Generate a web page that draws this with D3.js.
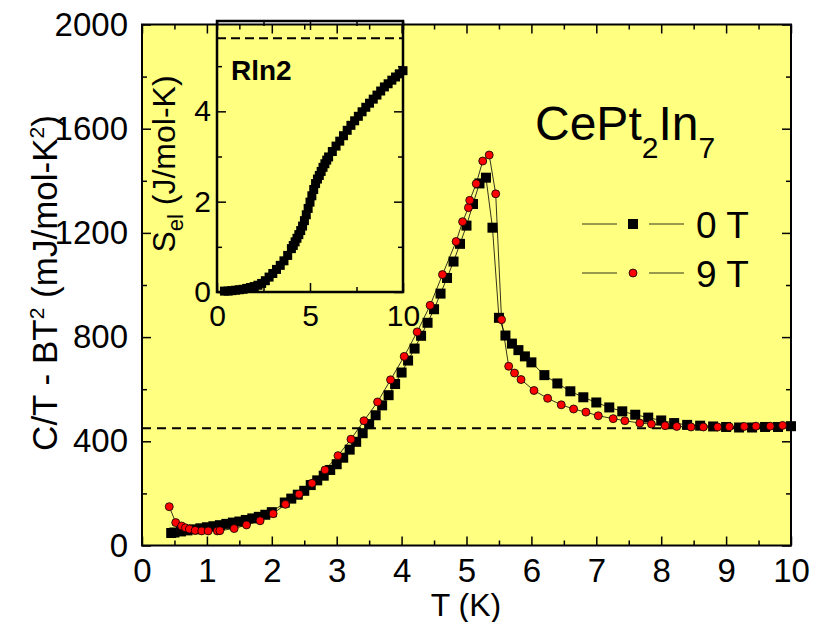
<!DOCTYPE html>
<html>
<head>
<meta charset="utf-8">
<script src="https://cdn.jsdelivr.net/npm/d3@7"></script>
<style>
  body { margin: 0; background: #fff; }
  svg text { font-family: "Liberation Sans", Arial, sans-serif; fill: #000; }
</style>
</head>
<body>
<svg width="820" height="622"></svg>
<script>
// 0 T data (squares)
const t0 = [0.45, 0.5, 0.6, 0.7, 0.8, 0.9, 1.0, 1.1, 1.2, 1.3, 1.4, 1.5, 1.6, 1.7, 1.8, 1.9, 2.0,
  2.2, 2.3, 2.4, 2.5, 2.6, 2.7, 2.8, 2.9, 3.0, 3.1, 3.2, 3.3, 3.4, 3.5, 3.6, 3.7, 3.8, 3.9, 4.0,
  4.1, 4.2, 4.3, 4.4, 4.5, 4.6, 4.7, 4.8, 4.9, 5.0, 5.1, 5.2, 5.3, 5.4, 5.5, 5.6, 5.7, 5.8, 5.9,
  6.0, 6.2, 6.4, 6.6, 6.8, 7.0, 7.2, 7.4, 7.6, 7.8, 8.0, 8.2, 8.4, 8.6, 8.8, 9.0, 9.2, 9.4, 9.6, 9.8, 10.0];
const c0 = [48, 50, 54, 58, 62, 66, 70, 74, 78, 83, 88, 92, 98, 104, 110, 118, 128,
  165, 180, 195, 210, 232, 250, 268, 290, 312, 337, 368, 398, 431, 466, 500, 538, 577, 620, 664,
  710, 756, 805, 855, 907, 967, 1027, 1090, 1158, 1228, 1311, 1390, 1412, 1220, 874, 806, 775, 750, 726,
  703, 654, 622, 592, 569, 549, 530, 515, 502, 491, 480, 470, 463, 460, 457, 455, 453, 453, 455, 455, 458];

// 9 T data (circles)
const t9 = [0.42, 0.52, 0.61, 0.67, 0.73, 0.82, 0.92, 1.02, 1.16, 1.2, 1.42, 1.61, 1.82, 2.02, 2.21,
  2.42, 2.62, 2.82, 3.02, 3.22, 3.42, 3.63, 3.83, 4.04, 4.24, 4.44, 4.63, 4.84, 4.94, 5.03, 5.05,
  5.15, 5.25, 5.35, 5.45, 5.54, 5.65, 5.74, 5.84, 6.04, 6.25, 6.46, 6.65, 6.84, 7.03, 7.26, 7.44,
  7.67, 7.85, 8.06, 8.24, 8.46, 8.65, 8.87, 9.05, 9.28, 9.46, 9.68, 9.87];
const c9 = [149, 88, 75, 68, 63, 58, 56, 56, 56, 57, 65, 79, 95, 122, 158,
  197, 239, 290, 345, 408, 479, 551, 636, 726, 820, 922, 1040, 1167, 1243, 1297, 1325,
  1389, 1476, 1499, 1350, 867, 688, 662, 637, 595, 565, 540, 524, 512, 498, 487, 479,
  470, 466, 460, 457, 455, 455, 455, 456, 457, 458, 458, 461];

const baseline = 450;

// inset: electronic entropy
const tIn = [0.4, 0.6, 0.8, 1.0, 1.2, 1.4, 1.6, 1.8, 2.0, 2.2, 2.4, 2.6, 2.8, 3.0, 3.2, 3.4, 3.6, 3.8,
  4.0, 4.1, 4.2, 4.3, 4.4, 4.5, 4.6, 4.7, 4.8, 4.9, 5.0, 5.1, 5.2, 5.3, 5.4, 5.5, 5.6, 5.7, 5.8, 5.9,
  6.0, 6.2, 6.4, 6.6, 6.8, 7.0, 7.2, 7.4, 7.6, 7.8, 8.0, 8.2, 8.4, 8.6, 8.8, 9.0, 9.2, 9.4, 9.6, 9.8, 10.0];
const sIn = [0.02, 0.02, 0.03, 0.04, 0.05, 0.06, 0.08, 0.10, 0.12, 0.15, 0.19, 0.25, 0.33, 0.41, 0.50, 0.59, 0.69, 0.81,
  0.96, 1.03, 1.11, 1.19, 1.27, 1.36, 1.46, 1.58, 1.71, 1.85, 1.99, 2.13, 2.27, 2.40, 2.50, 2.58, 2.67, 2.76, 2.84, 2.92,
  2.99, 3.11, 3.23, 3.34, 3.46, 3.58, 3.69, 3.79, 3.89, 3.99, 4.09, 4.18, 4.27, 4.36, 4.45, 4.54, 4.61, 4.69, 4.76, 4.83, 4.90];
const rln2 = 5.62;

const xMajor = d3.range(0, 11, 1);
const xMinor = d3.range(0.5, 10, 1);
const yMajor = [0, 400, 800, 1200, 1600, 2000];
const yMinor = [200, 600, 1000, 1400, 1800];
const inXMajor = [0, 5, 10];
const inXMinor = [2.5, 7.5];
const inYMajor = [0, 2, 4];
const inYMinor = [1, 3, 5];

const svg = d3.select("svg");
const yellow = "#ffff80";

// main scales
const x = d3.scaleLinear().domain([0, 10]).range([142, 791]);
const y = d3.scaleLinear().domain([0, 2000]).range([545.5, 24.5]);

svg.append("rect")
  .attr("x", x(0)).attr("y", y(2000))
  .attr("width", x(10) - x(0)).attr("height", y(0) - y(2000))
  .attr("fill", yellow);

function ticks(g, axis, len, vals, labels) {
  g.call(axis.tickValues(vals).tickSize(-len).tickFormat(labels ? d3.format("d") : ""));
  g.select(".domain").remove();
  g.selectAll(".tick line").attr("stroke", "#000").attr("stroke-width", 1.5);
}

function frameAxes(xs, ys, maj, min, xm, xn, ym, yn, font, padX, padY) {
  const x0 = xs.range()[0], x1 = xs.range()[1];
  const y0 = ys.range()[0], y1 = ys.range()[1];
  const gb = svg.append("g").attr("transform", `translate(0,${y0})`);
  ticks(gb, d3.axisBottom(xs).tickPadding(padX), maj, xm, true);
  gb.selectAll("text").attr("font-size", font);
  ticks(svg.append("g").attr("transform", `translate(0,${y0})`), d3.axisBottom(xs), min, xn, false);
  ticks(svg.append("g").attr("transform", `translate(0,${y1})`), d3.axisTop(xs), maj, xm, false);
  ticks(svg.append("g").attr("transform", `translate(0,${y1})`), d3.axisTop(xs), min, xn, false);
  const gl = svg.append("g").attr("transform", `translate(${x0},0)`);
  ticks(gl, d3.axisLeft(ys).tickPadding(padY), maj, ym, true);
  gl.selectAll("text").attr("font-size", font);
  ticks(svg.append("g").attr("transform", `translate(${x0},0)`), d3.axisLeft(ys), min, yn, false);
  ticks(svg.append("g").attr("transform", `translate(${x1},0)`), d3.axisRight(ys), maj, ym, false);
  ticks(svg.append("g").attr("transform", `translate(${x1},0)`), d3.axisRight(ys), min, yn, false);
}

// dashed baseline
svg.append("line")
  .attr("x1", x(0)).attr("x2", x(10))
  .attr("y1", y(baseline)).attr("y2", y(baseline))
  .attr("stroke", "#000").attr("stroke-width", 2)
  .attr("stroke-dasharray", "9,6");

// series
const d0 = t0.map((t, i) => ({ t, v: c0[i] }));
const d9 = t9.map((t, i) => ({ t, v: c9[i] }));
const line = d3.line().x(d => x(d.t)).y(d => y(d.v));

svg.append("path").datum(d0).attr("d", line)
  .attr("fill", "none").attr("stroke", "#000").attr("stroke-width", 0.8);
svg.selectAll(".sq").data(d0).enter().append("rect")
  .attr("x", d => x(d.t) - 5).attr("y", d => y(d.v) - 5)
  .attr("width", 10).attr("height", 10).attr("fill", "#000");

svg.append("path").datum(d9).attr("d", line)
  .attr("fill", "none").attr("stroke", "#000").attr("stroke-width", 0.8);
svg.selectAll(".ci").data(d9).enter().append("circle")
  .attr("cx", d => x(d.t)).attr("cy", d => y(d.v)).attr("r", 4)
  .attr("fill", "#ff0000").attr("stroke", "#000").attr("stroke-width", 0.8);

// inset
const xi = d3.scaleLinear().domain([0, 10]).range([217, 403]);
const yi = d3.scaleLinear().domain([0, 6]).range([292, 21]);

svg.append("line")
  .attr("x1", xi(0)).attr("x2", xi(10))
  .attr("y1", yi(rln2)).attr("y2", yi(rln2))
  .attr("stroke", "#000").attr("stroke-width", 2)
  .attr("stroke-dasharray", "9,5");

svg.selectAll(".sin").data(tIn.map((t, i) => ({ t, s: sIn[i] }))).enter().append("rect")
  .attr("x", d => xi(d.t) - 4.5).attr("y", d => yi(d.s) - 4.5)
  .attr("width", 9).attr("height", 9).attr("fill", "#000");

svg.append("text").attr("x", 231).attr("y", 80)
  .attr("font-size", 28).attr("font-weight", "bold").text("Rln2");

frameAxes(xi, yi, 9, 5, inXMajor, inXMinor, inYMajor, inYMinor, 30, 13, 6);
svg.append("rect")
  .attr("x", xi(0)).attr("y", yi(6)).attr("width", xi(10) - xi(0)).attr("height", yi(0) - yi(6))
  .attr("fill", "none").attr("stroke", "#000").attr("stroke-width", 2.5);

// main axes and frame
frameAxes(x, y, 9, 5, xMajor, xMinor, yMajor, yMinor, 33, 13, 14);
svg.append("rect")
  .attr("x", x(0)).attr("y", y(2000)).attr("width", x(10) - x(0)).attr("height", y(0) - y(2000))
  .attr("fill", "none").attr("stroke", "#000").attr("stroke-width", 2);

// axis titles
svg.append("text").attr("x", 466).attr("y", 616).attr("text-anchor", "middle")
  .attr("font-size", 32).text("T (K)");

const yt = svg.append("text").attr("transform", "translate(57,283) rotate(-90)")
  .attr("text-anchor", "middle").attr("font-size", 35);
yt.append("tspan").text("C/T - BT");
yt.append("tspan").attr("font-size", 21).attr("dy", -13).text("2");
yt.append("tspan").attr("dy", 13).text(" (mJ/mol-K");
yt.append("tspan").attr("font-size", 21).attr("dy", -13).text("2");
yt.append("tspan").attr("dy", 13).text(")");

const st = svg.append("text").attr("transform", "translate(175,164) rotate(-90)")
  .attr("text-anchor", "middle").attr("font-size", 32);
st.append("tspan").text("S");
st.append("tspan").attr("font-size", 22).attr("dy", 8).text("el");
st.append("tspan").attr("dy", -8).text(" (J/mol-K)");

// compound label
const ti = svg.append("text").attr("x", 535).attr("y", 140).attr("font-size", 48);
ti.append("tspan").text("CePt");
ti.append("tspan").attr("font-size", 30).attr("dy", 18).text("2");
ti.append("tspan").attr("dy", -18).text("In");
ti.append("tspan").attr("font-size", 30).attr("dy", 18).text("7");

// legend
const legend = [
  { label: "0 T", y: 224, shape: "sq" },
  { label: "9 T", y: 273, shape: "ci" }
];
legend.forEach(l => {
  svg.append("line").attr("x1", 582).attr("x2", 617).attr("y1", l.y).attr("y2", l.y)
    .attr("stroke", "#000").attr("stroke-width", 0.8);
  svg.append("line").attr("x1", 649).attr("x2", 684).attr("y1", l.y).attr("y2", l.y)
    .attr("stroke", "#000").attr("stroke-width", 0.8);
  if (l.shape === "sq") {
    svg.append("rect").attr("x", 628).attr("y", l.y - 5).attr("width", 10).attr("height", 10).attr("fill", "#000");
  } else {
    svg.append("circle").attr("cx", 633).attr("cy", l.y).attr("r", 4)
      .attr("fill", "#ff0000").attr("stroke", "#000").attr("stroke-width", 0.8);
  }
  svg.append("text").attr("x", 696).attr("y", l.y + 14).attr("font-size", 37).text(l.label);
});
</script>
</body>
</html>
